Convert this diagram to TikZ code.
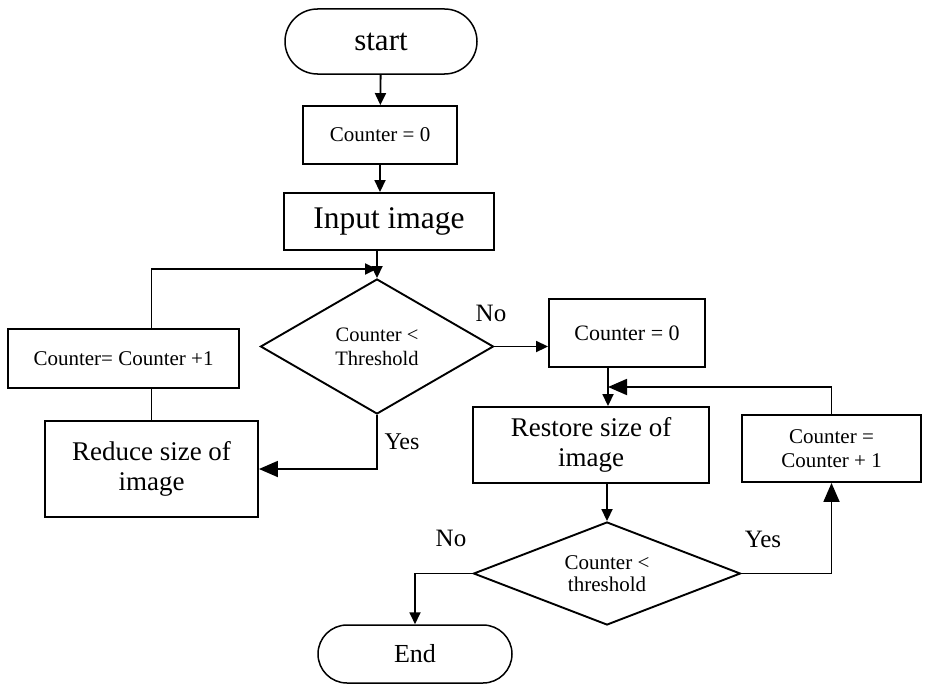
\documentclass[tikz,border=0pt]{standalone}
\usepackage{fontspec}
\setmainfont{Liberation Serif}
\usepackage{tikz}
\usetikzlibrary{arrows.meta,shapes.geometric,shapes.misc}
\tikzstyle{box} = [draw,line width=1.9pt,rectangle,inner sep=0pt,align=center]
\tikzstyle{decision} = [draw,line width=1.9pt,diamond,inner sep=0pt,align=center]
\tikzstyle{terminal} = [draw,line width=1.5pt,rounded rectangle,inner sep=0pt]
\tikzstyle{lbl} = [inner sep=0pt,font=\fontsize{25}{27}\selectfont]

\begin{document}
\begin{tikzpicture}[x=1pt,y=-1pt,
    post/.style={-{Triangle[length=12pt,width=11pt]},line width=1.8pt},
    bigpost/.style={-{Triangle[length=19pt,width=16pt]},line width=1.8pt},
    edge/.style={line width=1.8pt}]
    \useasboundingbox (0,0) rectangle (925,685);

    \node[terminal,minimum width=192,minimum height=65,font=\fontsize{31}{33}\selectfont] (S) at (381,41.5) {start};
    \node[box,minimum width=154,minimum height=58,font=\fontsize{21}{23}\selectfont] (C0) at (380,135) {Counter = 0};
    \node[box,minimum width=210,minimum height=57,font=\fontsize{31.5}{33}\selectfont] (I) at (389,221.5) {Input image};
    \node[decision,aspect=1.74,minimum width=233,minimum height=135,font=\fontsize{20.5}{24}\selectfont] (D1) at (377,346.5) {Counter <\\Threshold};
    \node[box,minimum width=231,minimum height=59,font=\fontsize{21}{23}\selectfont] (N1) at (123.5,358.5) {Counter= Counter +1};
    \node[box,minimum width=213,minimum height=96,font=\fontsize{27}{30}\selectfont] (R) at (151.5,469) {Reduce size of\\image};
    \node[box,minimum width=156,minimum height=68,font=\fontsize{22}{24}\selectfont] (C1) at (627,333) {Counter = 0};
    \node[box,minimum width=236,minimum height=76,font=\fontsize{27}{30}\selectfont] (B) at (591,445) {Restore size of\\image};
    \node[box,minimum width=179,minimum height=67,font=\fontsize{21}{24}\selectfont] (N2) at (831.5,448.5) {Counter =\\Counter + 1};
    \node[decision,aspect=2.6,minimum width=267,minimum height=103,font=\fontsize{21}{22}\selectfont] (D2) at (607,573.5) {Counter <\\threshold};
    \node[terminal,minimum width=194,minimum height=58,font=\fontsize{26}{28}\selectfont] (E) at (415,654) {End};

    \coordinate (m1) at (377,269);
    \coordinate (m2) at (608,387);

    \draw[post] (S) -- (C0);
    \draw[post] (C0.south) -- (C0.south |- I.north);
    \draw[post] (D1.north |- I.south) -- (D1.north);
    \draw[edge] (R.north) -- (R.north |- N1.south);
    \draw[post] (R.north |- N1.north) |- (m1);
    \draw[bigpost] (D1.south) |- (R.east);
    \draw[post] (D1.east) -- (D1.east -| C1.west);
    \draw[post] (C1.south -| m2) -- (B.north -| m2);
    \draw[bigpost] (N2.north) |- (m2);
    \draw[post] (D2.north |- B.south) -- (D2.north);
    \draw[bigpost] (D2.east) -| (N2.south);
    \draw[post] (D2.west) -| (E.north);

    \node[lbl] (no1) at (491,313) {No};
    \node[lbl,font=\fontsize{24}{26}\selectfont] (yes1) at (402,442) {Yes};
    \node[lbl] (no2) at (451,538) {No};
    \node[lbl] (yes2) at (763,539) {Yes};
\end{tikzpicture}
\end{document}
